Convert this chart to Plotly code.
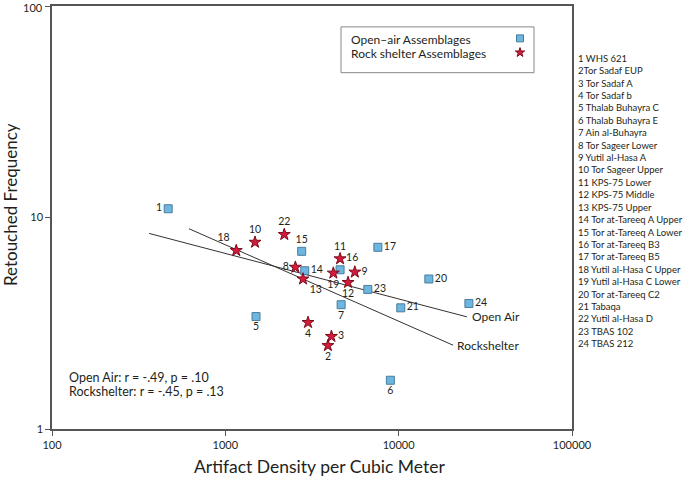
import math
import plotly.graph_objects as go

# ---------------- data ----------------
site_ids = list(range(1, 25))
site_names = ["WHS 621", "Tor Sadaf EUP", "Tor Sadaf A", "Tor Sadaf b", "Thalab Buhayra C",
              "Thalab Buhayra E", "Ain al-Buhayra", "Tor Sageer Lower", "Yutil al-Hasa A",
              "Tor Sageer Upper", "KPS-75 Lower", "KPS-75 Middle", "KPS-75 Upper",
              "Tor at-Tareeq A Upper", "Tor at-Tareeq A Lower", "Tor at-Tareeq B3",
              "Tor at-Tareeq B5", "Yutil al-Hasa C Upper", "Yutil al-Hasa C Lower",
              "Tor at-Tareeq C2", "Tabaqa", "Yutil al-Hasa D", "TBAS 102", "TBAS 212"]
list_labels = ["1 WHS 621", "2Tor Sadaf EUP"] + [f"{i} {n}" for i, n in zip(site_ids[2:], site_names[2:])]

site_type = ["open", "rock", "rock", "rock", "open", "open", "open", "rock", "rock", "rock",
             "rock", "rock", "rock", "open", "open", "open", "open", "rock", "rock", "open",
             "open", "rock", "open", "open"]
density = [468, 3908, 4093, 3000, 1503, 8955, 4657, 2535, 5587, 1483, 4592, 5106, 2806,
           2871, 2757, 4592, 7586, 1156, 4198, 14930, 10280, 2188, 6637, 25420]
retouch = [11.0, 2.48, 2.74, 3.19, 3.40, 1.70, 3.87, 5.82, 5.52, 7.64, 6.38, 4.93, 5.12,
           5.60, 6.92, 5.66, 7.23, 6.98, 5.46, 5.12, 3.74, 8.31, 4.57, 3.92]
label_pos = ["middle left", "bottom center", "middle right", "bottom center", "bottom center",
             "bottom center", "bottom center", "middle left", "middle right", "top center",
             "top center", "bottom center", "bottom right", "middle right", "top center",
             "top right", "middle right", "top left", "bottom center", "middle right",
             "middle right", "top center", "middle right", "middle right"]

# regression lines (end points)
open_fit_x = [363, 24770]
open_fit_y = [8.41, 3.39]
rock_fit_x = [617, 20600]
rock_fit_y = [8.85, 2.49]

x_ticks = [100, 1000, 10000, 100000]
y_ticks = [1, 10, 100]

FONT = "Lato"
TXT = "#231f20"
SQ_FILL, SQ_LINE = "#6cb6df", "#4a7d9c"
ST_FILL, ST_LINE = "#d51a3c", "#7a0c1c"

W, H = 685, 478
ML, MR, MT, MB = 52, 113, 4, 49
PW, PH = W - ML - MR, H - MT - MB


def px(x):
    return (x - ML) / PW


def py(y):
    return 1 - (y - MT) / PH


fig = go.Figure()

fig.add_trace(go.Scatter(x=open_fit_x, y=open_fit_y, mode="lines",
                         line=dict(color="#333333", width=1), showlegend=False, hoverinfo="skip"))
fig.add_trace(go.Scatter(x=rock_fit_x, y=rock_fit_y, mode="lines",
                         line=dict(color="#333333", width=1), showlegend=False, hoverinfo="skip"))

for kind, sym, fill, edge, size in [("open", "square", SQ_FILL, SQ_LINE, 8),
                                    ("rock", "star", ST_FILL, ST_LINE, 9)]:
    idx = [i for i, t in enumerate(site_type) if t == kind]
    fig.add_trace(go.Scatter(
        x=[density[i] for i in idx], y=[retouch[i] for i in idx],
        text=[str(site_ids[i]) for i in idx],
        textposition=[label_pos[i] for i in idx],
        mode="markers+text",
        marker=dict(symbol=sym, size=size, color=fill, line=dict(color=edge, width=1)),
        textfont=dict(family=FONT, size=10.5, color=TXT),
        showlegend=False))

# legend markers on an overlay axis
fig.add_trace(go.Scatter(x=[px(520)], y=[py(36.5)], mode="markers", xaxis="x2", yaxis="y2",
                         marker=dict(symbol="square", size=7, color=SQ_FILL, line=dict(color=SQ_LINE, width=1)),
                         showlegend=False, hoverinfo="skip"))
fig.add_trace(go.Scatter(x=[px(520)], y=[py(50.7)], mode="markers", xaxis="x2", yaxis="y2",
                         marker=dict(symbol="star", size=7, color=ST_FILL, line=dict(color=ST_LINE, width=1)),
                         showlegend=False, hoverinfo="skip"))

ann = []
ann.append(dict(text="Open\u2013air Assemblages", x=px(349), y=py(37.7), xref="paper", yref="paper",
                xanchor="left", yanchor="middle", showarrow=False, font=dict(family=FONT, size=12, color=TXT)))
ann.append(dict(text="Rock shelter Assemblages", x=px(349), y=py(51.5), xref="paper", yref="paper",
                xanchor="left", yanchor="middle", showarrow=False, font=dict(family=FONT, size=12, color=TXT)))
ann.append(dict(text="Open Air: r = -.49, p = .10", x=px(67), y=py(377.7), xref="paper", yref="paper",
                xanchor="left", yanchor="middle", showarrow=False, font=dict(family=FONT, size=12.5, color=TXT)))
ann.append(dict(text="Rockshelter: r = -.45, p = .13", x=px(67), y=py(391.5), xref="paper", yref="paper",
                xanchor="left", yanchor="middle", showarrow=False, font=dict(family=FONT, size=12.5, color=TXT)))
ann.append(dict(text="Open Air", x=math.log10(open_fit_x[1]), y=math.log10(open_fit_y[1]), xref="x", yref="y",
                xanchor="left", yanchor="middle", xshift=3, showarrow=False,
                font=dict(family=FONT, size=12, color=TXT)))
ann.append(dict(text="Rockshelter", x=math.log10(rock_fit_x[1]), y=math.log10(rock_fit_y[1]), xref="x", yref="y",
                xanchor="left", yanchor="middle", xshift=2, showarrow=False,
                font=dict(family=FONT, size=12, color=TXT)))
for k, lab in enumerate(list_labels):
    ann.append(dict(text=lab, x=px(576), y=py(56.5 + k * 12.47), xref="paper", yref="paper",
                    xanchor="left", yanchor="middle", showarrow=False,
                    font=dict(family=FONT, size=9.5, color=TXT)))
ann.append(dict(text="Artifact Density per Cubic Meter", x=px(319.5), y=py(467), xref="paper", yref="paper",
                xanchor="center", yanchor="middle", showarrow=False, font=dict(family=FONT, size=17.5, color=TXT)))
ann.append(dict(text="Retouched Frequency", x=px(10), y=py(204), xref="paper", yref="paper", textangle=-90,
                xanchor="center", yanchor="middle", showarrow=False, font=dict(family=FONT, size=17, color=TXT)))
# top y tick label (the axis would drop it at the page edge)
ann.append(dict(text=str(y_ticks[-1]), x=math.log10(x_ticks[0]), y=math.log10(y_ticks[-1]), xref="x", yref="y",
                xanchor="right", yanchor="middle", xshift=-7, yshift=-1, showarrow=False,
                font=dict(family=FONT, size=11, color=TXT)))

fig.update_layout(
    width=W, height=H,
    margin=dict(l=ML, r=MR, t=MT, b=MB, pad=0),
    paper_bgcolor="white", plot_bgcolor="white",
    font=dict(family=FONT, color=TXT),
    annotations=ann,
    shapes=[dict(type="rect", xref="paper", yref="paper", x0=px(341), x1=px(534), y0=py(71), y1=py(25),
                 line=dict(color="#888888", width=1), fillcolor="white", layer="below")],
    xaxis=dict(type="log", range=[2, 5], tickvals=x_ticks, ticktext=[str(v) for v in x_ticks],
               showgrid=False, zeroline=False, showline=True, linecolor="#555555", linewidth=1.5,
               mirror=True, ticks="outside", ticklen=5, tickcolor="#555555",
               tickfont=dict(family=FONT, size=11, color=TXT)),
    yaxis=dict(type="log", range=[0, 2], tickvals=y_ticks, ticktext=[str(v) for v in y_ticks[:-1]] + [""],
               showgrid=False, zeroline=False, showline=True, linecolor="#555555", linewidth=1.5,
               mirror=True, ticks="outside", ticklen=5, tickcolor="#555555",
               tickfont=dict(family=FONT, size=11, color=TXT)),
    xaxis2=dict(overlaying="x", range=[0, 1], visible=False, fixedrange=True),
    yaxis2=dict(overlaying="y", range=[0, 1], visible=False, fixedrange=True),
)

fig.write_html("out.html", config={"displayModeBar": False},
               post_script="document.body.style.margin='0';")
